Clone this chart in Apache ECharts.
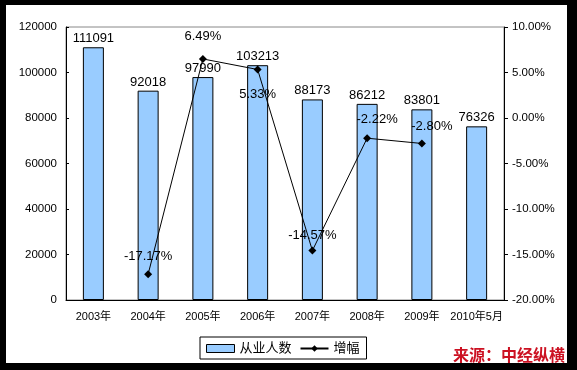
<!DOCTYPE html>
<html>
<head>
<meta charset="utf-8">
<script src="https://cdn.jsdelivr.net/npm/echarts@6/dist/echarts.min.js"></script>
<style>html,body{margin:0;padding:0;background:#fff}#c{width:577px;height:370px}</style>
</head>
<body>
<div id="c"></div>
<script>
var categories = ['2003年','2004年','2005年','2006年','2007年','2008年','2009年','2010年5月'];
var employees = [111091, 92018, 97990, 103213, 88173, 86212, 83801, 76326];
var growth = [null, -17.17, 6.49, 5.33, -14.57, -2.22, -2.80, null];
var leftTicks = [0, 120000, 20000];
var rightTicks = [-20, 10, 5];
var growthLabelOffsets = [null, [0, -2], [0, -7], [0, 9], [0, 0], [10, -3], [10, -2], null];
var growthLabelPos = [null, 'top', 'top', 'bottom', 'top', 'top', 'top', null];

var chart = echarts.init(document.getElementById('c'), null, {renderer: 'canvas'});
var txt = '#000';
var font = 'Arial, "Liberation Sans", "Noto Sans CJK SC", sans-serif';

var growthData = growth.map(function (v, i) {
  if (v === null) return null;
  return {
    value: v,
    label: {position: growthLabelPos[i], offset: growthLabelOffsets[i]}
  };
});

chart.setOption({
  backgroundColor: '#fff',
  animation: false,
  textStyle: {fontFamily: font},
  grid: {left: 66, right: 73, top: 27, bottom: 70, show: true, borderColor: '#888', borderWidth: 1, backgroundColor: 'transparent'},
  legend: {
    bottom: 11, left: 200,
    itemWidth: 28, itemHeight: 8, itemGap: 8,
    padding: [5, 7, 4, 6],
    borderColor: '#000', borderWidth: 1,
    textStyle: {fontSize: 13, color: txt, fontFamily: font},
    data: [
      {name: '从业人数', icon: 'rect', itemStyle: {color: '#99ccff', borderColor: '#000', borderWidth: 1}},
      {name: '增幅'}
    ]
  },
  xAxis: {
    type: 'category',
    data: categories,
    axisLine: {lineStyle: {color: '#000', width: 1}},
    axisTick: {inside: true, length: 4, lineStyle: {color: '#000'}},
    axisLabel: {color: txt, fontSize: 11, margin: 11, interval: 0}
  },
  yAxis: [
    {
      type: 'value', min: leftTicks[0], max: leftTicks[1], interval: leftTicks[2],
      axisLine: {show: true, lineStyle: {color: '#000'}},
      axisTick: {show: true, inside: true, length: 3, lineStyle: {color: '#000'}},
      splitLine: {show: false},
      axisLabel: {color: txt, fontSize: 11.5, margin: 9, formatter: function (v) { return String(v); }}
    },
    {
      type: 'value', min: rightTicks[0], max: rightTicks[1], interval: rightTicks[2],
      position: 'right',
      axisLine: {show: true, lineStyle: {color: '#000'}},
      axisTick: {show: true, inside: false, length: 4, lineStyle: {color: '#000'}},
      splitLine: {show: false},
      axisLabel: {color: txt, fontSize: 11.5, margin: 8, formatter: function (v) { return v.toFixed(2) + '%'; }}
    }
  ],
  series: [
    {
      name: '从业人数', type: 'bar', yAxisIndex: 0,
      data: employees, barWidth: 21,
      itemStyle: {color: '#99ccff', borderColor: '#000', borderWidth: 1},
      label: {show: true, position: 'top', distance: 2, color: txt, fontSize: 13}
    },
    {
      name: '增幅', type: 'line', yAxisIndex: 1,
      data: growthData, connectNulls: false,
      symbol: 'diamond', symbolSize: 8,
      lineStyle: {color: '#000', width: 1},
      itemStyle: {color: '#000'},
      label: {show: true, color: txt, fontSize: 13, formatter: function (p) { return p.value.toFixed(2) + '%'; }},
      z: 3
    }
  ],
  graphic: [
    {type: 'rect', shape: {x: 0, y: 0, width: 577, height: 5}, style: {fill: '#000'}, silent: true},
    {type: 'rect', shape: {x: 0, y: 0, width: 6, height: 370}, style: {fill: '#000'}, silent: true},
    {type: 'rect', shape: {x: 567, y: 0, width: 10, height: 370}, style: {fill: '#000'}, silent: true},
    {type: 'rect', shape: {x: 0, y: 363, width: 577, height: 7}, style: {fill: '#000'}, silent: true},
    {type: 'text', left: 453, top: 347, z: 100,
     style: {text: '来源：中经纵横', fill: '#cc1122', font: 'bold 16px "Noto Sans CJK SC", sans-serif',
             shadowColor: 'rgba(60,0,0,0.8)', shadowBlur: 1, shadowOffsetX: 1, shadowOffsetY: 1}}
  ]
});
</script>
</body>
</html>
